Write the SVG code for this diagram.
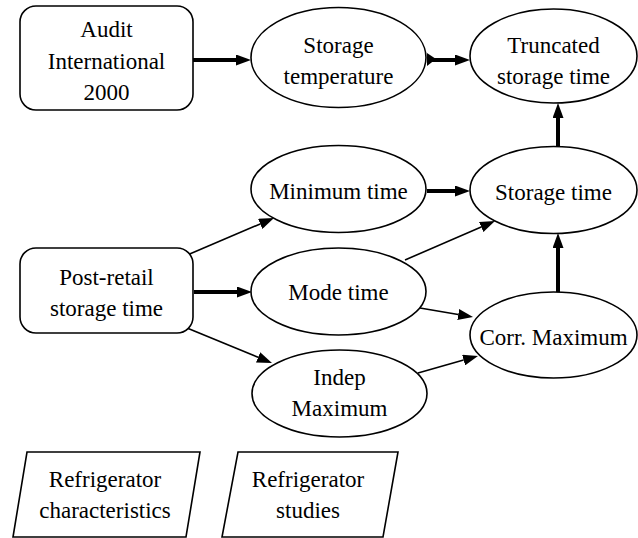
<svg xmlns="http://www.w3.org/2000/svg" width="638" height="538" viewBox="0 0 638 538">
<style>
  .node { fill: #ffffff; stroke: #000000; stroke-width: 1.6; }
  .lbl { font-size: 23px; fill: #000000; text-anchor: middle; }
  .thick { stroke: #000000; stroke-width: 4; fill: none; }
  .thin { stroke: #000000; stroke-width: 1.6; fill: none; }
</style>
<defs>
  <marker id="ah" viewBox="0 0 15 11" refX="0" refY="5.5" markerWidth="15" markerHeight="11" markerUnits="userSpaceOnUse" orient="auto">
    <path d="M0,0 L15,5.5 L0,11 z" fill="#000000"/>
  </marker>
</defs>
<rect width="638" height="538" fill="#ffffff"/>

<g id="connectors">
  <line class="thick" x1="193" y1="60" x2="236" y2="60" marker-end="url(#ah)"/>
  <path d="M427,53 L436,59 L427,66 z" fill="#000000"/>
  <line class="thick" x1="432" y1="60" x2="455" y2="60" marker-end="url(#ah)"/>
  <line class="thick" x1="427" y1="191" x2="455" y2="191" marker-end="url(#ah)"/>
  <line class="thick" x1="558" y1="146" x2="558" y2="118" marker-end="url(#ah)"/>
  <line class="thick" x1="558" y1="292" x2="558" y2="248" marker-end="url(#ah)"/>
  <line class="thick" x1="194" y1="292" x2="237" y2="292" marker-end="url(#ah)"/>
  <line class="thin" x1="185" y1="256" x2="260.2" y2="223.9" marker-end="url(#ah)"/>
  <line class="thin" x1="187" y1="328" x2="258.1" y2="357.3" marker-end="url(#ah)"/>
  <line class="thin" x1="405" y1="260" x2="481.2" y2="227" marker-end="url(#ah)"/>
  <line class="thin" x1="420" y1="308" x2="458.2" y2="314.5" marker-end="url(#ah)"/>
  <line class="thin" x1="418" y1="373" x2="463.6" y2="360.1" marker-end="url(#ah)"/>
</g>

<g id="audit" font-family="Liberation Serif, serif">
  <rect class="node" x="20" y="6" width="173" height="104" rx="16" ry="16"/>
  <text class="lbl" x="106.5" y="37">Audit</text>
  <text class="lbl" x="106.5" y="69">International</text>
  <text class="lbl" x="106.5" y="100">2000</text>
</g>
<g id="storage-temperature" font-family="Liberation Serif, serif">
  <ellipse class="node" cx="338.5" cy="57.5" rx="87.5" ry="50"/>
  <text class="lbl" x="338.5" y="53">Storage</text>
  <text class="lbl" x="338.5" y="84">temperature</text>
</g>
<g id="truncated" font-family="Liberation Serif, serif">
  <ellipse class="node" cx="553.5" cy="56" rx="83.5" ry="47"/>
  <text class="lbl" x="553.5" y="53">Truncated</text>
  <text class="lbl" x="553.5" y="84">storage time</text>
</g>
<g id="minimum-time" font-family="Liberation Serif, serif">
  <ellipse class="node" cx="338.5" cy="189" rx="87.5" ry="43.5"/>
  <text class="lbl" x="338.5" y="199">Minimum time</text>
</g>
<g id="storage-time" font-family="Liberation Serif, serif">
  <ellipse class="node" cx="553.5" cy="190" rx="83.5" ry="43.5"/>
  <text class="lbl" x="553.5" y="200">Storage time</text>
</g>
<g id="post-retail" font-family="Liberation Serif, serif">
  <rect class="node" x="20" y="248" width="173" height="85" rx="16" ry="16"/>
  <text class="lbl" x="106.5" y="285">Post-retail</text>
  <text class="lbl" x="106.5" y="316">storage time</text>
</g>
<g id="mode-time" font-family="Liberation Serif, serif">
  <ellipse class="node" cx="338.5" cy="291.5" rx="87.5" ry="43.5"/>
  <text class="lbl" x="338.5" y="300">Mode time</text>
</g>
<g id="corr-maximum" font-family="Liberation Serif, serif">
  <ellipse class="node" cx="553.5" cy="335" rx="83.5" ry="43"/>
  <text class="lbl" x="553.5" y="345">Corr. Maximum</text>
</g>
<g id="indep-maximum" font-family="Liberation Serif, serif">
  <ellipse class="node" cx="339.5" cy="393.5" rx="87.5" ry="43.5"/>
  <text class="lbl" x="339.5" y="385">Indep</text>
  <text class="lbl" x="339.5" y="416">Maximum</text>
</g>
<g id="refrigerator-characteristics" font-family="Liberation Serif, serif">
  <polygon class="node" points="27,452 200,452 186,537 13,537"/>
  <text class="lbl" x="105" y="487">Refrigerator</text>
  <text class="lbl" x="105" y="518">characteristics</text>
</g>
<g id="refrigerator-studies" font-family="Liberation Serif, serif">
  <polygon class="node" points="238,452 398,452 383,537 222,537"/>
  <text class="lbl" x="308" y="487">Refrigerator</text>
  <text class="lbl" x="308" y="518">studies</text>
</g>
</svg>
